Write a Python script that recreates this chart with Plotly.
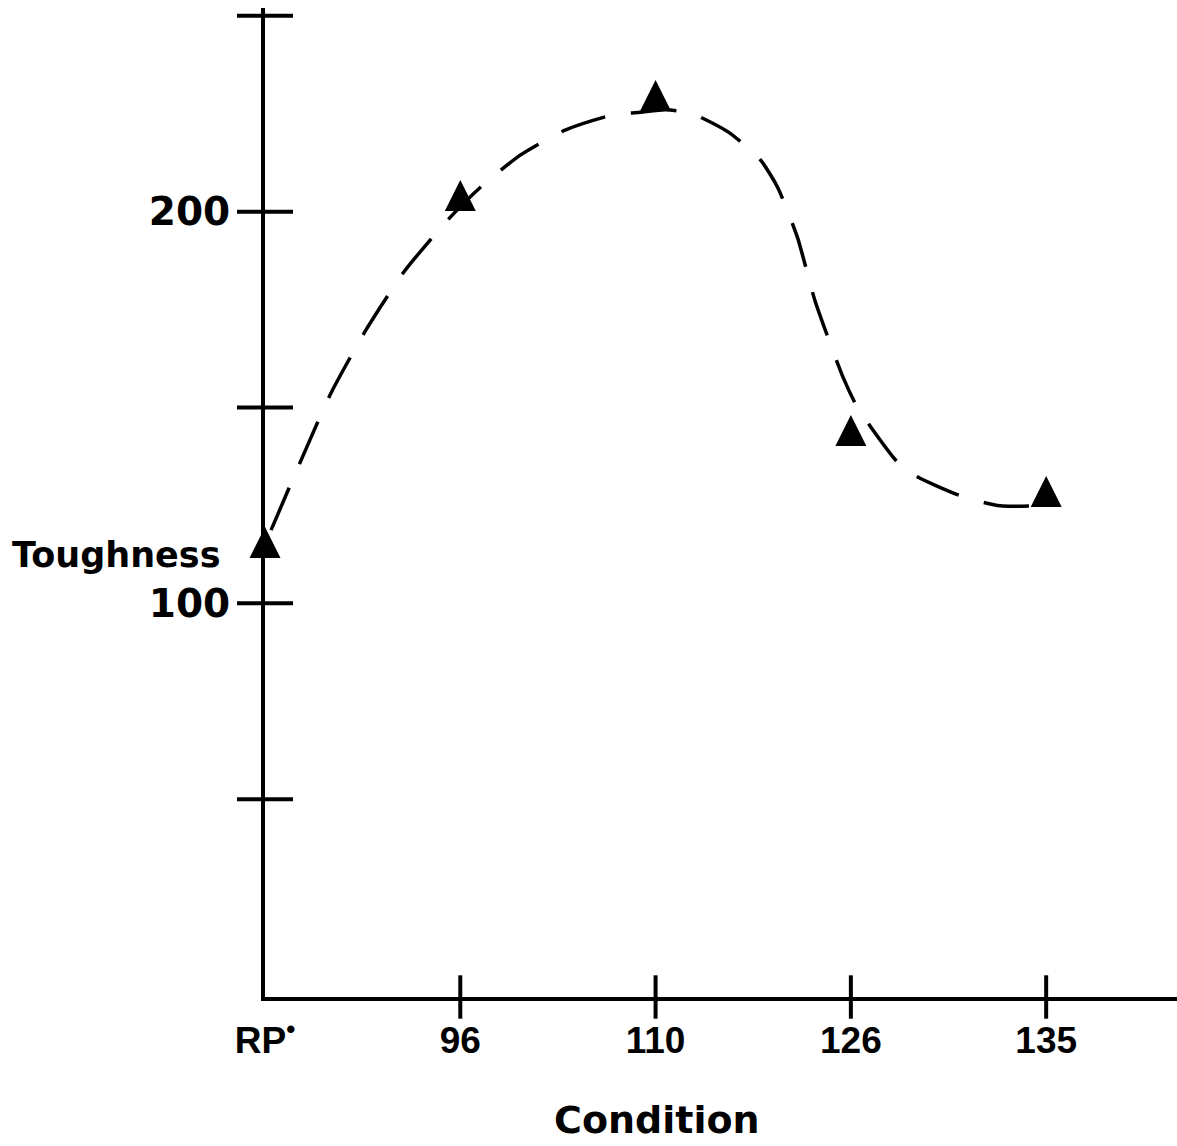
import plotly.graph_objects as go

# ---- data ----
categories = ["RP<sup>•</sup>", "96", "110", "126", "135"]
cat_pos = [0, 1, 2, 3, 4]
toughness = [119.5, 208.1, 233.6, 148.1, 132.5]

# hand-drawn dashed trend curve (x in category units, y in toughness units)
curve_x = [0.031, 0.174, 0.338, 0.517, 0.711, 0.936, 1.105, 1.309, 1.540, 1.780,
           1.923, 2.051, 2.179, 2.373, 2.537, 2.624, 2.726, 2.818, 2.962, 3.033,
           3.243, 3.340, 3.575, 3.765, 3.954]
curve_y = [118.7, 135.3, 153.7, 169.8, 184.6, 197.9, 206.3, 214.5, 220.9, 224.7,
           225.4, 226.0, 225.2, 220.3, 213.2, 206.3, 193.5, 177.0, 157.5, 150.1,
           135.8, 132.3, 127.2, 124.9, 124.9]

y_tick_marks = [50, 100, 150, 200, 250]
y_label_vals = [100, 200]
y_label_text = ["100", "200"]

# ---- layout constants ----
Y_MIN, Y_MAX = -0.5, 252
X_MIN, X_MAX = 0, 4.67

fig = go.Figure()

fig.add_trace(go.Scatter(
    x=curve_x, y=curve_y, mode="lines",
    line=dict(color="black", width=3.5, dash="46px,26px", shape="spline", smoothing=0.6),
    cliponaxis=False, hoverinfo="skip"))

# crossing tick marks on the y axis
fig.add_trace(go.Scatter(
    x=[X_MIN] * len(y_tick_marks), y=y_tick_marks, mode="markers",
    marker=dict(symbol="line-ew", size=40, color="black", line=dict(width=4, color="black")),
    cliponaxis=False, hoverinfo="skip"))

# crossing tick marks on the x axis
fig.add_trace(go.Scatter(
    x=cat_pos[1:], y=[Y_MIN] * (len(cat_pos) - 1), mode="markers",
    marker=dict(symbol="line-ns", size=31, color="black", line=dict(width=4, color="black")),
    cliponaxis=False, hoverinfo="skip"))

# data triangles
fig.add_trace(go.Scatter(
    x=cat_pos, y=toughness, mode="markers",
    marker=dict(symbol="arrow-up", size=31, color="black", line=dict(width=0)),
    cliponaxis=False))

fig.update_layout(
    width=1177, height=1146,
    margin=dict(l=265, r=0, t=8, b=149),
    paper_bgcolor="white", plot_bgcolor="white",
    showlegend=False,
    xaxis=dict(range=[X_MIN, X_MAX], tickmode="array", tickvals=cat_pos, ticktext=categories,
               showgrid=False, zeroline=False, showline=True, linecolor="black", linewidth=4,
               ticks="outside", ticklen=8, tickcolor="rgba(0,0,0,0)",
               tickfont=dict(family="Liberation Sans", size=37, color="black", weight="bold")),
    yaxis=dict(range=[Y_MIN, Y_MAX], tickmode="array", tickvals=y_label_vals, ticktext=y_label_text,
               showgrid=False, zeroline=False, showline=True, linecolor="black", linewidth=4,
               ticks="outside", ticklen=23, tickcolor="rgba(0,0,0,0)",
               tickfont=dict(family="DejaVu Sans", size=39, color="black", weight="bold")),
    annotations=[
        dict(text="Toughness", xref="paper", yref="paper", x=-0.047, y=0.447,
             xanchor="right", yanchor="middle", showarrow=False,
             font=dict(family="DejaVu Sans", size=35, color="black", weight="bold")),
        dict(text="Condition", xref="paper", yref="paper", x=0.430, y=-0.1244,
             xanchor="center", yanchor="middle", showarrow=False,
             font=dict(family="DejaVu Sans", size=38, color="black", weight="bold")),
    ],
)

fig.write_html("out.html")
